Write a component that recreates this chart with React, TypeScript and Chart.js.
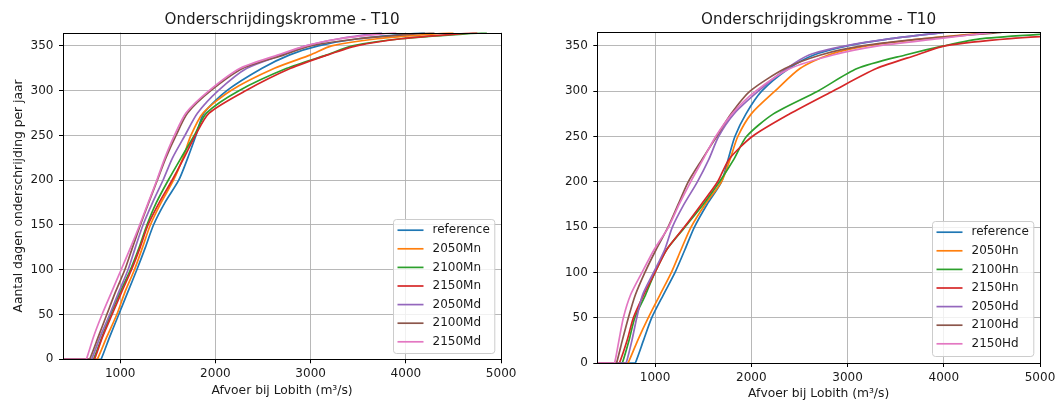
import React, { useEffect, useRef } from 'react';
import { Chart, registerables } from 'chart.js';

Chart.register(...registerables);

// ---------- data ----------
const TITLE = 'Onderschrijdingskromme - T10';
const X_TITLE = 'Afvoer bij Lobith (m³/s)';
const Y_TITLE = 'Aantal dagen onderschrijding per jaar';
const X_TICKS = [1000, 2000, 3000, 4000, 5000];
const Y_TICKS = [0, 50, 100, 150, 200, 250, 300, 350];
const X_MIN = 400;
const X_MAX = 5000;
const Y_MIN = 0;
const Y_MAX = 365;

// days below (y) for each discharge value (x) listed in the series
const DAYS = [0, 0, 0, 25, 50, 75, 100, 125, 150, 175, 200, 225, 250, 275, 300, 325, 340, 350, 358, 365];

const LEFT_LABELS = ['reference', '2050Mn', '2100Mn', '2150Mn', '2050Md', '2100Md', '2150Md'];
const L_REFERENCE = [350, 785, 800, 890, 985, 1080, 1175, 1265, 1350, 1470, 1615, 1710, 1796, 1880, 2120, 2490, 2780, 3080, 3500, 4200];
const L_2050MN = [350, 745, 760, 860, 965, 1050, 1150, 1235, 1317, 1430, 1560, 1660, 1743, 1870, 2160, 2620, 3000, 3220, 3700, 4500];
const L_2100MN = [350, 705, 720, 810, 900, 1000, 1108, 1200, 1281, 1380, 1505, 1640, 1778, 1906, 2247, 2750, 3170, 3440, 3950, 4850];
const L_2150MN = [350, 715, 730, 815, 915, 1015, 1119, 1210, 1292, 1410, 1545, 1670, 1789, 1934, 2317, 2790, 3180, 3480, 3950, 4750];
const L_2050MD = [350, 685, 700, 790, 890, 985, 1083, 1160, 1240, 1340, 1450, 1550, 1680, 1813, 2030, 2330, 2700, 2950, 3300, 3750];
const L_2100MD = [350, 665, 680, 770, 860, 950, 1049, 1130, 1212, 1300, 1390, 1480, 1587, 1708, 1952, 2290, 2720, 3000, 3500, 4300];
const L_2150MD = [350, 630, 645, 720, 810, 910, 1010, 1110, 1205, 1295, 1385, 1470, 1570, 1691, 1934, 2260, 2660, 2950, 3300, 3900];

const RIGHT_LABELS = ['reference', '2050Hn', '2100Hn', '2150Hn', '2050Hd', '2100Hd', '2150Hd'];
const R_REFERENCE = [350, 780, 795, 880, 966, 1085, 1208, 1310, 1409, 1540, 1690, 1760, 1830, 1945, 2108, 2390, 2650, 3000, 3450, 4000];
const R_2050HN = [350, 705, 720, 820, 930, 1050, 1170, 1270, 1374, 1520, 1690, 1780, 1860, 2000, 2245, 2506, 2800, 3200, 3800, 4500];
const R_2100HN = [350, 645, 660, 730, 790, 900, 1000, 1120, 1310, 1500, 1670, 1820, 1950, 2230, 2690, 3100, 3600, 4000, 4400, 5350];
const R_2150HN = [350, 615, 630, 710, 775, 880, 1000, 1120, 1304, 1480, 1650, 1770, 2010, 2400, 2845, 3300, 3720, 4013, 4690, 5780];
const R_2050HD = [350, 685, 700, 760, 810, 870, 985, 1100, 1180, 1300, 1440, 1560, 1660, 1820, 2073, 2368, 2600, 2980, 3450, 4000];
const R_2100HD = [350, 585, 600, 660, 723, 795, 895, 1010, 1135, 1240, 1345, 1490, 1640, 1790, 1987, 2350, 2720, 3150, 3800, 4600];
const R_2150HD = [350, 565, 580, 625, 671, 745, 865, 990, 1140, 1250, 1370, 1500, 1630, 1800, 2045, 2403, 2850, 3320, 3950, 4500];

// ---------- style ----------
const COLORS = ['#1f77b4', '#ff7f0e', '#2ca02c', '#d62728', '#9467bd', '#8c564b', '#e377c2'];
const FONT = '"DejaVu Sans", "Liberation Sans", sans-serif';
const TICK_FS = 12;
const LABEL_FS = 12.3;
const LEGEND_FS = 12;
const TITLE_FS = 15.2;
const TEXT = '#1a1a1a';

const frameTitlePlugin = {
  id: 'frameTitle',
  afterDatasetsDraw(chart: any) {
    const { ctx, chartArea: a } = chart;
    ctx.save();
    ctx.strokeStyle = '#000';
    ctx.lineWidth = 1;
    const l = Math.round(a.left) + 0.5;
    const r = Math.round(a.right) + 0.5;
    const t = Math.round(a.top) + 0.5;
    const b = Math.round(a.bottom) + 0.5;
    ctx.strokeRect(l, t, r - l, b - t);
    ctx.fillStyle = TEXT;
    ctx.font = `${TITLE_FS}px ${FONT}`;
    ctx.textAlign = 'center';
    ctx.textBaseline = 'alphabetic';
    ctx.fillText(TITLE, (a.left + a.right) / 2, 23.5);
    ctx.restore();
  },
};

const boxLegendPlugin = {
  id: 'boxLegend',
  afterDraw(chart: any, _args: any, opts: any) {
    const { ctx, chartArea: a } = chart;
    const ds = chart.data.datasets;
    ctx.save();
    ctx.font = `${LEGEND_FS}px ${FONT}`;
    const tw = Math.max(...ds.map((d: any) => ctx.measureText(d.label).width));
    const w = 39 + tw + 5;
    const h = opts.height;
    const x = Math.round(a.right - opts.right - w) + 0.5;
    const y = Math.round(a.bottom - opts.bottom - h) + 0.5;
    ctx.beginPath();
    if ((ctx as any).roundRect) (ctx as any).roundRect(x, y, w, h, 3);
    else ctx.rect(x, y, w, h);
    ctx.fillStyle = 'rgba(255,255,255,0.8)';
    ctx.fill();
    ctx.strokeStyle = '#cccccc';
    ctx.lineWidth = 1;
    ctx.stroke();
    ds.forEach((d: any, i: number) => {
      const cy = y + 10.7 + i * 18.6;
      ctx.strokeStyle = d.borderColor;
      ctx.lineWidth = 1.7;
      ctx.beginPath();
      ctx.moveTo(x + 4, cy);
      ctx.lineTo(x + 30, cy);
      ctx.stroke();
      ctx.fillStyle = TEXT;
      ctx.textAlign = 'left';
      ctx.textBaseline = 'middle';
      ctx.fillText(d.label, x + 39, cy);
    });
    ctx.restore();
  },
};

type Layout = {
  left: number;
  width: number;
  padTop: number;
  padRight: number;
  yWidth: number;
  xHeight: number;
  xTitlePad: number;
  legendRight: number;
  legendBottom: number;
  legendHeight: number;
  showYTitle: boolean;
};

function CurveChart({ labels, series, layout }: { labels: string[]; series: number[][]; layout: Layout }) {
  const ref = useRef<HTMLCanvasElement>(null);
  useEffect(() => {
    if (!ref.current) return;
    const n = series.length;
    const grid = {
      color: '#b0b0b0',
      lineWidth: 0.9,
      drawTicks: true,
      tickLength: 4,
      tickColor: '#000',
      tickWidth: 1,
    };
    const chart = new Chart(ref.current, {
      type: 'line',
      data: {
        datasets: series.map((xs, i) => ({
          label: labels[i],
          data: xs.map((x, j) => ({ x, y: DAYS[j] })),
          borderColor: COLORS[i],
          backgroundColor: COLORS[i],
          borderWidth: 1.7,
          pointRadius: 0,
          fill: false,
          tension: 0.25,
          order: n - 1 - i,
        })),
      },
      options: {
        responsive: false,
        animation: false,
        devicePixelRatio: 1,
        layout: { padding: { left: 0, right: layout.padRight, top: layout.padTop, bottom: 0 } },
        plugins: {
          legend: { display: false },
          tooltip: { enabled: false },
          title: { display: false },
          boxLegend: { right: layout.legendRight, bottom: layout.legendBottom, height: layout.legendHeight },
        } as any,
        scales: {
          x: {
            type: 'linear',
            min: X_MIN,
            max: X_MAX,
            afterBuildTicks: (s: any) => {
              s.ticks = X_TICKS.map((v) => ({ value: v }));
            },
            afterFit: (s: any) => {
              s.height = layout.xHeight;
            },
            border: { display: false },
            grid,
            ticks: {
              autoSkip: false,
              maxRotation: 0,
              padding: 3.6,
              color: TEXT,
              font: { family: FONT, size: TICK_FS },
              callback: (v: any) => String(v),
            },
            title: {
              display: true,
              text: X_TITLE,
              color: TEXT,
              font: { family: FONT, size: LABEL_FS },
              padding: { top: 0, bottom: layout.xTitlePad },
            },
          },
          y: {
            type: 'linear',
            min: Y_MIN,
            max: Y_MAX,
            afterBuildTicks: (s: any) => {
              s.ticks = Y_TICKS.map((v) => ({ value: v }));
            },
            afterFit: (s: any) => {
              s.width = layout.yWidth;
            },
            border: { display: false },
            grid,
            ticks: {
              autoSkip: false,
              padding: 5.5,
              color: TEXT,
              font: { family: FONT, size: TICK_FS },
              callback: (v: any) => String(v),
            },
            title: {
              display: layout.showYTitle,
              text: Y_TITLE,
              color: TEXT,
              font: { family: FONT, size: LABEL_FS },
              padding: { top: 11.1, bottom: 0 },
            },
          },
        },
      } as any,
      plugins: [frameTitlePlugin, boxLegendPlugin],
    });
    return () => chart.destroy();
  }, []);
  return (
    <canvas
      ref={ref}
      width={layout.width}
      height={403}
      style={{ position: 'absolute', left: layout.left, top: 0, width: layout.width, height: 403 }}
    />
  );
}

const LEFT_LAYOUT: Layout = {
  left: 0,
  width: 520,
  padTop: 32.5,
  padRight: 18,
  yWidth: 63,
  xHeight: 43.7,
  xTitlePad: 5.3,
  legendRight: 7,
  legendBottom: 6.3,
  legendHeight: 134,
  showYTitle: true,
};

const RIGHT_LAYOUT: Layout = {
  left: 540,
  width: 524,
  padTop: 32.3,
  padRight: 24,
  yWidth: 57.3,
  xHeight: 40,
  xTitlePad: 1.6,
  legendRight: 7,
  legendBottom: 7,
  legendHeight: 135,
  showYTitle: false,
};

export default function App() {
  return (
    <div style={{ position: 'absolute', left: 0, top: 0, width: 1064, height: 403, background: '#fff' }}>
      <CurveChart
        labels={LEFT_LABELS}
        series={[L_REFERENCE, L_2050MN, L_2100MN, L_2150MN, L_2050MD, L_2100MD, L_2150MD]}
        layout={LEFT_LAYOUT}
      />
      <CurveChart
        labels={RIGHT_LABELS}
        series={[R_REFERENCE, R_2050HN, R_2100HN, R_2150HN, R_2050HD, R_2100HD, R_2150HD]}
        layout={RIGHT_LAYOUT}
      />
    </div>
  );
}
